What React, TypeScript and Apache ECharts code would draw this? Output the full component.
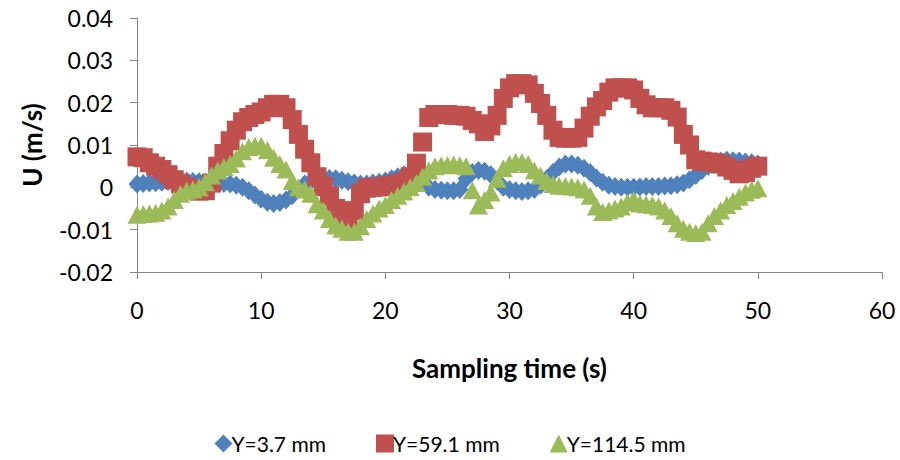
import React, { useEffect, useRef } from "react";
import * as echarts from "echarts";

const seriesNames = ["Y=3.7 mm", "Y=59.1 mm", "Y=114.5 mm"];
const xTicks = [0, 10, 20, 30, 40, 50, 60];
const yTicks = [-0.02, -0.01, 0, 0.01, 0.02, 0.03, 0.04];

const times = [
  0, 0.5, 1, 1.5, 2, 2.5, 3, 3.5, 4, 4.5,
  5, 5.5, 6, 6.5, 7, 7.5, 8, 8.5, 9, 9.5,
  10, 10.5, 11, 11.5, 12, 12.5, 13, 13.5, 14, 14.5,
  15, 15.5, 16, 16.5, 17, 17.5, 18, 18.5, 19, 19.5,
  20, 20.5, 21, 21.5, 22, 22.5, 23, 23.5, 24, 24.5,
  25, 25.5, 26, 26.5, 27, 27.5, 28, 28.5, 29, 29.5,
  30, 30.5, 31, 31.5, 32, 32.5, 33, 33.5, 34, 34.5,
  35, 35.5, 36, 36.5, 37, 37.5, 38, 38.5, 39, 39.5,
  40, 40.5, 41, 41.5, 42, 42.5, 43, 43.5, 44, 44.5,
  45, 45.5, 46, 46.5, 47, 47.5, 48, 48.5, 49, 49.5, 50,
];

const uLow = [
  0.0008, 0.0009, 0.001, 0.0011, 0.0012, 0.0014, 0.0015, 0.0016, 0.0015, 0.0014,
  0.0013, 0.0012, 0.0011, 0.001, 0.0009, 0.0008, 0.0005, 0.0, -0.0008, -0.0018,
  -0.0028, -0.0035, -0.0038, -0.0036, -0.003, -0.002, -0.0005, 0.0008, 0.0014, 0.0018,
  0.002, 0.0021, 0.002, 0.0017, 0.0013, 0.001, 0.0008, 0.0008, 0.001, 0.0012,
  0.0015, 0.002, 0.0025, 0.003, 0.0028, 0.002, 0.001, 0.0, -0.0005, -0.0007,
  -0.0008, -0.0008, -0.0005, 0.002, 0.0035, 0.004, 0.0038, 0.003, 0.0015, 0.0,
  -0.0005, -0.0008, -0.001, -0.0008, -0.0005, 0.0005, 0.002, 0.0035, 0.0048, 0.0055,
  0.0055, 0.0052, 0.0045, 0.0035, 0.0022, 0.0012, 0.0005, 0.0002, 0.0, 0.0,
  0.0, 0.0001, 0.0002, 0.0002, 0.0002, 0.0003, 0.0004, 0.0006, 0.001, 0.0018,
  0.0028, 0.004, 0.005, 0.0058, 0.0062, 0.0064, 0.0063, 0.0062, 0.006, 0.0058, 0.0055,
];

const uMid = [
  0.0072, 0.007, 0.0058, 0.005, 0.0042, 0.003, 0.0018, 0.0008, 0.0, -0.0005,
  -0.0009, -0.0008, 0.001, 0.005, 0.008, 0.011, 0.0135, 0.0155, 0.0165, 0.0172,
  0.0178, 0.0188, 0.0196, 0.0196, 0.0188, 0.016, 0.0125, 0.009, 0.0058, 0.0025,
  0.0002, -0.002, -0.005, -0.0068, -0.0075, -0.0055, -0.0015, -0.0002, 0.0, 0.0001,
  0.0003, 0.0005, 0.0008, 0.0012, 0.0025, 0.0057, 0.0107, 0.0165, 0.0172, 0.0172,
  0.0172, 0.017, 0.017, 0.0168, 0.0158, 0.015, 0.0132, 0.0145, 0.017, 0.021,
  0.0235, 0.0245, 0.0245, 0.0242, 0.0222, 0.0198, 0.017, 0.0135, 0.0118, 0.0116,
  0.0116, 0.0118, 0.014, 0.0168, 0.019, 0.0205, 0.0225, 0.0235, 0.0235, 0.0235,
  0.023, 0.021, 0.0195, 0.0188, 0.0188, 0.0188, 0.0182, 0.0166, 0.0125, 0.01,
  0.0065, 0.0062, 0.006, 0.0058, 0.0055, 0.0048, 0.004, 0.0032, 0.0035, 0.0045, 0.005,
];

const uHigh = [
  -0.0065, -0.0063, -0.0062, -0.006, -0.0055, -0.0045, -0.003, -0.0015, -0.0008, -0.0005,
  0.0, 0.0012, 0.0028, 0.004, 0.0048, 0.0055, 0.0068, 0.0085, 0.0095, 0.0098,
  0.0098, 0.0088, 0.007, 0.0055, 0.0042, 0.0015, 0.0, -0.0005, -0.0015, -0.004,
  -0.0055, -0.0075, -0.009, -0.0098, -0.0105, -0.0105, -0.0092, -0.0075, -0.0062, -0.005,
  -0.0042, -0.003, -0.002, -0.001, 0.0, 0.001, 0.0025, 0.004, 0.005, 0.0052,
  0.0053, 0.0054, 0.0052, 0.005, -0.0007, -0.0043, -0.003, -0.0012, 0.002, 0.0045,
  0.0055, 0.006, 0.006, 0.0055, 0.004, 0.0028, 0.0015, 0.0008, 0.0004, 0.0003,
  0.0002, 0.0, -0.0005, -0.002, -0.0045, -0.0058, -0.0055, -0.005, -0.0045, -0.0035,
  -0.003, -0.0038, -0.004, -0.0042, -0.0045, -0.0055, -0.0068, -0.0085, -0.0098, -0.0105,
  -0.0108, -0.0105, -0.0085, -0.0068, -0.0055, -0.0042, -0.0032, -0.0022, -0.0012, -0.0006, -0.0002,
];

const colors = ["#4F81BD", "#C0504D", "#9BBB59"];
const symbols = ["diamond", "rect", "triangle"];
const symbolSizes: any[] = [[17, 19], 19, [19, 18]];
const FONT = "Lato, 'Open Sans', sans-serif";

export default function App() {
  const ref = useRef<HTMLDivElement>(null);
  useEffect(() => {
    if (!ref.current) return;
    const chart = echarts.init(ref.current, undefined, { renderer: "svg" });
    const values = [uLow, uMid, uHigh];
    const series = values.map((vals, i) => ({
      name: seriesNames[i],
      type: "scatter",
      symbol: symbols[i],
      symbolSize: symbolSizes[i],
      itemStyle: { color: colors[i], opacity: 1 },
      data: times.map((t, k) => [t, vals[k]]),
      z: 2 + i,
    }));
    chart.setOption({
      animation: false,
      textStyle: { fontFamily: FONT },
      grid: { left: 137, right: 18, top: 18, bottom: 188, containLabel: false },
      xAxis: {
        type: "value",
        min: xTicks[0],
        max: xTicks[xTicks.length - 1],
        interval: 10,
        name: "Sampling time (s)",
        nameLocation: "middle",
        nameGap: 83,
        nameTextStyle: { fontFamily: FONT, fontSize: 26, fontWeight: "bold", color: "#000" },
        axisLine: { onZero: false, lineStyle: { color: "#868686", width: 1 } },
        axisTick: { show: true, length: 7, lineStyle: { color: "#868686" } },
        axisLabel: { margin: 26, fontSize: 23, color: "#000", fontFamily: FONT },
        splitLine: { show: false },
      },
      yAxis: {
        type: "value",
        min: yTicks[0],
        max: yTicks[yTicks.length - 1],
        interval: 0.01,
        name: "U (m/s)",
        nameLocation: "middle",
        nameGap: 92,
        nameRotate: 90,
        nameTextStyle: { fontFamily: FONT, fontSize: 26, fontWeight: "bold", color: "#000" },
        axisLine: { show: true, lineStyle: { color: "#868686", width: 1 } },
        axisTick: { show: true, length: 7, lineStyle: { color: "#868686" } },
        axisLabel: {
          margin: 24,
          fontSize: 23,
          color: "#000",
          fontFamily: FONT,
          formatter: (v: number) => (Math.abs(v) < 1e-9 ? "0" : v.toFixed(2)),
        },
        splitLine: { show: false },
      },
      legend: {
        data: seriesNames.map((n, i) => ({ name: n, icon: symbols[i] })),
        left: "center",
        top: 428,
        itemWidth: 18,
        itemHeight: 18,
        itemGap: 50,
        textStyle: { fontFamily: FONT, fontSize: 21, color: "#000", padding: [0, 0, 0, -6] },
      },
      series,
    });
    return () => chart.dispose();
  }, []);
  return (
    <div
      ref={ref}
      style={{ position: "fixed", left: 0, top: 0, width: 900, height: 460, background: "#fff" }}
    />
  );
}
